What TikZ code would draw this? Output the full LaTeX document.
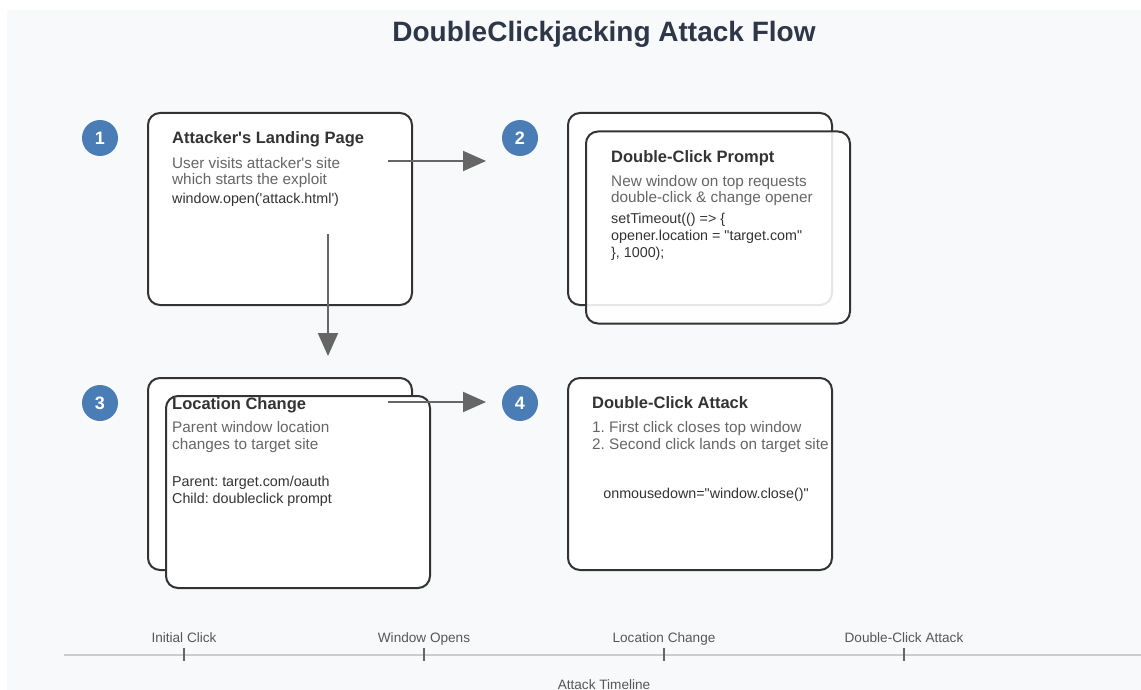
\documentclass[tikz,border=0pt]{standalone}
\usepackage{fontspec}
\setmainfont{Liberation Sans}[Ligatures=TeXOff]
\usetikzlibrary{arrows.meta}
\frenchspacing
\definecolor{bggray}{HTML}{F8F9FA}
\definecolor{headcol}{HTML}{2D3748}
\definecolor{edgecol}{HTML}{333333}
\definecolor{desccol}{HTML}{666666}
\definecolor{stepblue}{HTML}{4A7DB5}
\definecolor{linecol}{HTML}{CCCCCC}
\tikzset{
  win/.style={draw=edgecol, line width=2pt, fill=white, rounded corners=12pt,
    minimum width=264pt, minimum height=192pt, inner sep=0pt},
  stepnum/.style={circle, fill=stepblue, minimum size=36pt, inner sep=0pt,
    text=white, font=\fontsize{18}{20}\selectfont\bfseries},
  wintitle/.style={anchor=base west, inner sep=0pt, text=edgecol,
    font=\fontsize{16.5}{19}\selectfont\bfseries},
  windesc/.style={anchor=base west, inner sep=0pt, text=desccol, align=left,
    font=\fontsize{15.3}{17}\selectfont},
  wincode/.style={anchor=base west, inner sep=0pt, text=edgecol, align=left,
    font=\fontsize{14.3}{17}\selectfont},
  flow/.style={draw=desccol, line width=2pt, -{Triangle[length=23pt, width=20pt]}},
  tick/.style={draw=desccol, line width=1.3pt},
  ticklabel/.style={anchor=base, inner sep=0pt, text=desccol!85!black,
    font=\fontsize{13.6}{16}\selectfont}
}

\begin{document}
\begin{tikzpicture}[x=1pt, y=-1pt]
	% page and background
	\useasboundingbox (0,0) rectangle (1141,690);
	\fill[bggray] (7,10) rectangle (1141,690);
	\node[anchor=base, text=headcol, font=\fontsize{28}{32}\selectfont\bfseries] (head) at (604,42) {DoubleClickjacking Attack Flow};
	% step 1: landing page (multi-line texts sit on their last baseline)
	\node[win] (land) at (280,209) {};
	\node[stepnum] (n1) at (100,138) {1};
	\node[wintitle] (landtitle) at (172,144) {Attacker's Landing Page};
	\node[windesc] (landdesc) at (172,185) {User visits attacker's site\\which starts the exploit};
	\node[wincode] (landcode) at (172,204) {window.open('attack.html')};
	% step 2: prompt window on top
	\node[win] (promptback) at (700,209) {};
	\node[win, fill opacity=0.88] (prompt) at (718,227.5) {};
	\node[stepnum] (n2) at (520,138) {2};
	\node[wintitle] (prompttitle) at (611,163) {Double-Click Prompt};
	\node[windesc] (promptdesc) at (611,203) {New window on top requests\\double-click \& change opener};
	\node[wincode] (promptcode) at (611,257) {setTimeout(() => \{\\opener.location = "target.com"\\\}, 1000);};
	% step 3: parent location changes
	\node[win] (locback) at (280,474) {};
	\node[win] (loc) at (298,492) {};
	\node[stepnum] (n3) at (100,403) {3};
	\node[wintitle] (loctitle) at (172,409) {Location Change};
	\node[windesc] (locdesc) at (172,449) {Parent window location\\changes to target site};
	\node[wincode] (loccode) at (172,503) {Parent: target.com/oauth\\Child: doubleclick prompt};
	% step 4: the double click
	\node[win] (attack) at (700,474) {};
	\node[stepnum] (n4) at (520,403) {4};
	\node[wintitle] (attacktitle) at (592,408) {Double-Click Attack};
	\node[windesc] (attackdesc) at (592,449) {1. First click closes top window\\2. Second click lands on target site};
	\node[wincode, anchor=base] (attackcode) at (706,498) {onmousedown="window.close()"};
	% connectors
	\coordinate (a1s) at (388,161);
	\coordinate (a1e) at (486,161);
	\coordinate (a2s) at (328,234);
	\coordinate (a2e) at (328,356);
	\coordinate (a3s) at (388,402);
	\coordinate (a3e) at (486,402);
	\draw[flow] (a1s) -- (a1e);
	\draw[flow] (a2s) -- (a2e);
	\draw[flow] (a3s) -- (a3e);
	% timeline
	\coordinate (tl0) at (64,655);
	\coordinate (tl1) at (1141,655);
	\draw[linecol, line width=2.5pt] (tl0) -- (tl1);
	\foreach \x/\lab [count=\i] in {184/Initial Click, 424/Window Opens, 664/Location Change, 904/Double-Click Attack} {
		\coordinate (t\i a) at (\x,648);
		\coordinate (t\i b) at (\x,661);
		\draw[tick] (t\i a) -- (t\i b);
		\node[ticklabel] (tl\i) at (\x,642) {\lab};
	}
	\node[ticklabel] (tlhead) at (604,689) {Attack Timeline};
\end{tikzpicture}
\end{document}
